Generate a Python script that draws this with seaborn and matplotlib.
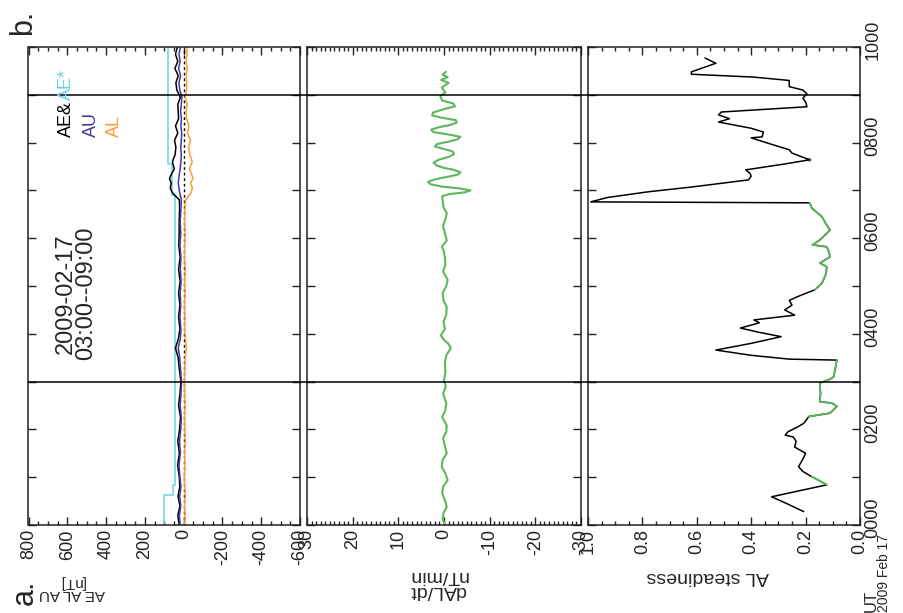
#!/usr/bin/python3
# coding=utf-8
import numpy as np
import pandas as pd
import matplotlib
matplotlib.use("Agg")
import matplotlib.pyplot as plt
from matplotlib.lines import Line2D
from matplotlib.ticker import MultipleLocator, FuncFormatter
from matplotlib.transforms import ScaledTranslation
import seaborn as sns

# ---- panel a: AE / AU / AL indices [nT], time in hours UT
ae_time = [0.0, 0.2, 0.4, 0.6, 0.8, 1.0, 1.25, 1.5, 1.75, 2.0, 2.25, 2.5, 2.75,
           3.0, 3.25, 3.5, 3.7, 3.9, 4.1, 4.35, 4.6, 4.85, 5.1, 5.35, 5.6, 5.85,
           6.1, 6.35, 6.6, 6.8, 6.95, 7.05, 7.15, 7.25, 7.35, 7.45, 7.6, 7.75,
           7.9, 8.05, 8.2, 8.35, 8.5, 8.65, 8.8, 8.95, 9.1, 9.25, 9.4, 9.55,
           9.7, 9.85, 10.0]
ae_vals = [23, 30, 19, 29, 20, 22, 31, 22, 30, 21, 16, 26, 19, 14, 22, 28, 42,
           27, 19, 26, 19, 26, 18, 26, 18, 25, 23, 23, 21, 22, 58, 69, 64, 73,
           62, 48, 58, 44, 40, 47, 30, 42, 26, 28, 30, 17, 35, 40, 28, 45, 30,
           42, 32]
au_vals = [18, 22, 15, 20, 14, 19, 24, 17, 21, 15, 12, 18, 14, 11, 16, 20, 28,
           17, 14, 19, 15, 18, 13, 17, 14, 19, 15, 18, 14, 12, 20, 24, 28, 25,
           22, 18, 14, 12, 15, 12, 10, 14, 11, 16, 12, 9, 20, 24, 16, 26, 18,
           24, 16]
al_vals = [-5, -8, -4, -9, -6, -3, -7, -5, -9, -6, -4, -8, -5, -3, -6, -8, -14,
           -10, -5, -7, -4, -8, -5, -9, -4, -6, -8, -5, -7, -10, -38, -45, -36,
           -48, -40, -30, -44, -32, -25, -35, -20, -28, -15, -12, -18, -8, -15,
           -16, -12, -19, -12, -18, -16]
ae_star_time = [0.0, 0.63, 0.84, 6.9, 7.55, 10.0]
ae_star_vals = [103, 55, 43, 60, 81, 81]

# ---- panel b: dAL/dt [nT/min]
dal_time = [0.0, 0.12, 0.25, 0.38, 0.52, 0.66, 0.8, 0.94, 1.08, 1.22, 1.36, 1.5,
            1.65, 1.82, 1.95, 2.08, 2.26, 2.4, 2.55, 2.75, 2.9, 3.03, 3.2, 3.4,
            3.55, 3.7, 3.8, 3.87, 3.97, 4.1, 4.25, 4.4, 4.56, 4.7, 4.85, 5.0,
            5.13, 5.3, 5.45, 5.6, 5.75, 5.82, 5.95, 6.1, 6.25, 6.4, 6.52, 6.65,
            6.8, 6.88, 6.92, 6.96, 7.0, 7.04, 7.08, 7.13, 7.18, 7.23, 7.28,
            7.33, 7.38, 7.43, 7.47, 7.52, 7.58, 7.64, 7.7, 7.76, 7.82, 7.87,
            7.92, 7.97, 8.02, 8.07, 8.12, 8.17, 8.22, 8.27, 8.32, 8.37, 8.42,
            8.47, 8.52, 8.57, 8.63, 8.7, 8.76, 8.82, 8.88, 8.97, 9.05, 9.15,
            9.25, 9.31, 9.37, 9.42, 9.48]
dal_vals = [-0.3, 0.3, 0.1, -0.6, -0.2, 0.4, 0.2, -0.8, -0.3, 0.5, 0.3, -0.6,
            -0.2, 0.2, -0.5, -0.6, 0.4, -0.3, -0.5, 0.2, -0.4, 0.0, -0.3, -0.2,
            -0.5, -1.5, -0.9, 0.0, 0.7, -0.2, 0.1, -0.5, -0.6, 0.1, 0.3, -0.5,
            -0.8, 0.2, -0.3, -0.2, 0.1, 0.5, -0.6, -0.2, 0.2, -0.3, -0.6, 0.1,
            0.3, 0.4, -1.0, -4.6, -5.8, -3.5, 0.5, 3.0, 3.5, 2.0, -0.5, -3.0,
            -3.6, -2.2, 0.0, 1.6, 2.3, 1.2, -1.0, -2.2, -1.8, 0.2, 2.0, 1.5,
            -1.0, -3.0, -3.6, -1.0, 2.3, 2.8, 1.2, -1.4, -2.8, -2.6, 0.5, 2.6,
            2.4, 0.0, -2.4, -2.0, 0.4, 0.8, -0.3, 0.5, -1.0, 0.6, -0.8, 0.3,
            -0.4]

# ---- panel c: AL steadiness
steady_time = [0.28, 0.45, 0.59, 0.72, 0.84, 0.93, 1.01, 1.12, 1.22, 1.38, 1.5,
               1.63, 1.75, 1.84, 1.88, 1.95, 2.05, 2.13, 2.27, 2.34, 2.48, 2.55,
               2.58, 2.75, 2.97, 3.05, 3.1, 3.3, 3.45, 3.47, 3.55, 3.66, 3.8,
               3.94, 4.03, 4.12, 4.23, 4.29, 4.39, 4.5, 4.6, 4.7, 4.8, 4.92,
               5.06, 5.25, 5.4, 5.48, 5.61, 5.72, 5.82, 5.86, 5.96, 6.17, 6.3,
               6.45, 6.63, 6.74, 6.76, 6.85, 6.97, 7.07, 7.22, 7.3, 7.36, 7.43,
               7.55, 7.64, 7.78, 7.85, 7.99, 8.1, 8.12, 8.22, 8.3, 8.43, 8.5,
               8.58, 8.64, 8.75, 8.85, 8.93, 9.02, 9.1, 9.17, 9.3, 9.37, 9.43,
               9.48, 9.66, 9.77]
steady_vals = [0.207, 0.27, 0.325, 0.22, 0.122, 0.15, 0.177, 0.21, 0.226, 0.21,
               0.2, 0.24, 0.235, 0.245, 0.275, 0.265, 0.23, 0.206, 0.188, 0.11,
               0.085, 0.103, 0.148, 0.145, 0.148, 0.11, 0.097, 0.09, 0.085,
               0.26, 0.4, 0.53, 0.4, 0.29, 0.37, 0.44, 0.37, 0.39, 0.24, 0.277,
               0.25, 0.26, 0.22, 0.166, 0.14, 0.125, 0.122, 0.147, 0.11, 0.115,
               0.122, 0.175, 0.148, 0.11, 0.125, 0.14, 0.177, 0.185, 0.99, 0.93,
               0.78, 0.62, 0.41, 0.4, 0.405, 0.42, 0.28, 0.185, 0.25, 0.26, 0.34,
               0.4, 0.36, 0.355, 0.4, 0.52, 0.48, 0.52, 0.51, 0.195, 0.2, 0.21,
               0.195, 0.21, 0.26, 0.26, 0.39, 0.62, 0.62, 0.53, 0.57]
STEADY_LIMIT = 0.19

event_times = [3.0, 9.0]   # 03:00--09:00 window

C_AE = "black"
C_AESTAR = "#6ccfeb"
C_AU = "#45379e"
C_AL = "#ff9a3c"
C_GREEN = "#5cb85c"

sns.set_style("ticks")
plt.rcParams["font.family"] = ["Liberation Sans", "DejaVu Sans"]
plt.rcParams["axes.unicode_minus"] = False

W, H = 904, 613
fig = plt.figure(figsize=(W / 100, H / 100), dpi=100)


def px_axes(x0, x1, y0, y1):
    """axes from pixel box (y measured from top)"""
    return fig.add_axes([x0 / W, 1 - y1 / H, (x1 - x0) / W, (y1 - y0) / H])


def hour_label(t, pos):
    h = int(round(t))
    return f"{h:02d}00" if h % 2 == 0 else ""


def style_axis(ax, xlim, major, minor, time_labels=False):
    ax.set_xlim(*xlim)
    ax.set_ylim(0, 10)
    ax.xaxis.set_major_locator(MultipleLocator(major))
    ax.xaxis.set_minor_locator(MultipleLocator(minor))
    ax.yaxis.set_major_locator(MultipleLocator(1))
    ax.yaxis.set_major_formatter(FuncFormatter(hour_label))
    ax.tick_params(which="both", direction="in", top=True, right=True,
                   width=1, colors="#222222", labelcolor="#222222")
    ax.tick_params(which="major", length=6)
    ax.tick_params(which="minor", length=3)
    ax.tick_params(axis="x", labelsize=13, labelrotation=90, pad=3)
    ax.tick_params(axis="y", labelleft=False, labelright=time_labels,
                   labelsize=13, labelrotation=90, pad=3)
    for sp in ax.spines.values():
        sp.set_linewidth(1.1)
        sp.set_color("#222222")
    ax.set_xlabel("")
    ax.set_ylabel("")


ax_a = px_axes(28.5, 300, 47, 525)
ax_b = px_axes(307, 581, 47, 525)
ax_c = px_axes(588, 860, 47, 525)

# panel a
ax_a.axvline(0, color="black", lw=1, ls=(0, (2, 2)))
sns.lineplot(x=ae_star_vals, y=ae_star_time, orient="y", estimator=None,
             drawstyle="steps-pre", color=C_AESTAR, lw=1.1, ax=ax_a)
sns.lineplot(x=ae_vals, y=ae_time, orient="y", estimator=None,
             color=C_AE, lw=1.1, ax=ax_a)
sns.lineplot(x=al_vals, y=ae_time, orient="y", estimator=None,
             color=C_AL, lw=1.1, ax=ax_a)
sns.lineplot(x=au_vals, y=ae_time, orient="y", estimator=None,
             color=C_AU, lw=1.1, ax=ax_a)
style_axis(ax_a, (800, -600), 200, 50)

# panel b
sns.lineplot(x=dal_vals, y=dal_time, orient="y", estimator=None,
             color=C_GREEN, lw=1.5, ax=ax_b)
style_axis(ax_b, (30, -30), 10, 1)

# panel c: black line, green where steadiness is below the limit
df_c = pd.DataFrame({"t": steady_time, "v": steady_vals})
df_c["steady"] = df_c["v"] < STEADY_LIMIT
df_c["seg"] = (df_c["steady"] != df_c["steady"].shift()).cumsum()
sns.lineplot(data=df_c, x="v", y="t", orient="y", estimator=None,
             color="black", lw=1.1, ax=ax_c)
df_g = df_c[df_c["steady"]]
sns.lineplot(data=df_g, x="v", y="t", units="seg", orient="y", estimator=None,
             color=C_GREEN, lw=1.3, ax=ax_c)
single = df_g.groupby("seg").filter(lambda g: len(g) == 1)
sns.scatterplot(data=single, x="v", y="t", color=C_GREEN, s=8,
                edgecolor="none", ax=ax_c)
style_axis(ax_c, (1.0, 0.0), 0.2, 0.05, time_labels=True)

# time labels sit a little above their ticks in the original
shift = ScaledTranslation(0, 7 / 100, fig.dpi_scale_trans)
for tick in ax_c.yaxis.get_major_ticks():
    tick.label2.set_va("center")
    tick.label2.set_transform(tick.label2.get_transform() + shift)

# event window lines across all three panels
x0 = ax_a.get_position().x0
x1 = ax_c.get_position().x1
for t in event_times:
    yd = ax_c.transData.transform((0.5, t))[1]
    yf = fig.transFigure.inverted().transform((0, yd))[1]
    fig.add_artist(Line2D([x0, x1], [yf, yf], transform=fig.transFigure,
                          color="black", lw=1.1))


def ftext(x, y, s, **kw):
    fig.text(x / W, 1 - y / H, s, **kw)


ftext(23, 22, "b.", rotation=90, ha="center", va="center", fontsize=22)
ftext(25, 592, "a.", rotation=90, ha="center", va="center", fontsize=22)
ftext(72, 588, "AE AL AU\n[nT]", rotation=180, ha="center", va="center",
      fontsize=11, linespacing=0.9)
ftext(438, 583, "dAL/dt\nnT/min", rotation=180, ha="center", va="center",
      fontsize=14, linespacing=0.9)
ftext(708, 577, "AL steadiness", rotation=180, ha="center", va="center",
      fontsize=14)
ftext(871, 612, "UT", rotation=90, ha="center", va="bottom", fontsize=12)
ftext(884, 612, "2009 Feb 17", rotation=90, ha="center", va="bottom",
      fontsize=10)

# legend and date labels inside panel a
ftext(66, 137, "AE&", rotation=90, ha="center", va="bottom", fontsize=13,
      color=C_AE)
ftext(66, 100, "AE*", rotation=90, ha="center", va="bottom", fontsize=13,
      color=C_AESTAR)
ftext(91, 137, "AU", rotation=90, ha="center", va="bottom", fontsize=13,
      color=C_AU)
ftext(114, 137, "AL", rotation=90, ha="center", va="bottom", fontsize=13,
      color=C_AL)
ftext(76, 360, "2009-02-17\n03:00--09:00", rotation=90, ha="center",
      va="bottom", fontsize=17, linespacing=0.85)

fig.savefig("out.png", dpi=100)
